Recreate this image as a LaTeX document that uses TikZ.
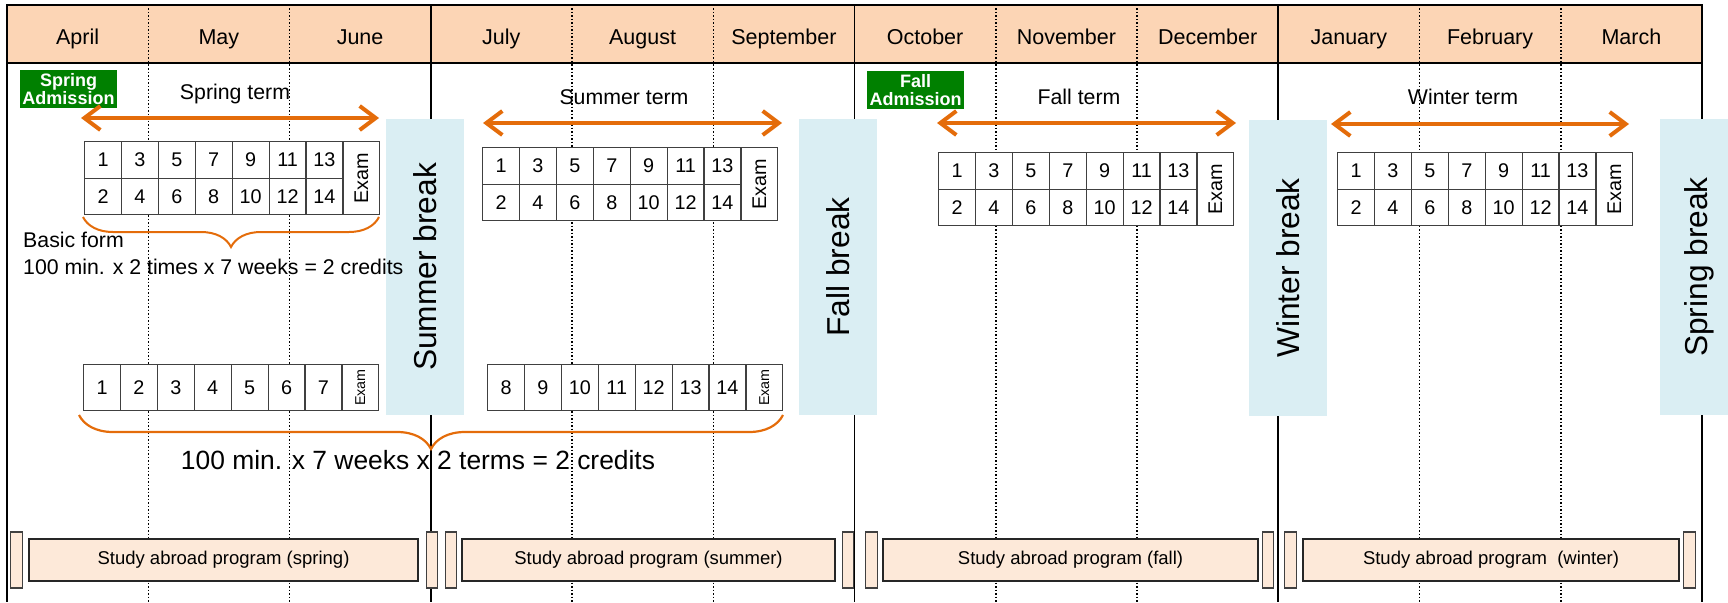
\documentclass[tikz,border=0pt]{standalone}
\usepackage{fontspec}
\setmainfont{Liberation Sans}
\usetikzlibrary{%
  positioning
 ,arrows.meta
 ,calc
 ,decorations.pathreplacing
}
\definecolor{hdr}{HTML}{FCD5B5}
\definecolor{brkblue}{HTML}{DAEEF3}
\definecolor{admgreen}{HTML}{008000}
\definecolor{progfill}{HTML}{FDE9D9}
\definecolor{orng}{HTML}{E46C0A}
\tikzstyle{frm}=[line width=1.8pt,black]
\tikzstyle{mline}=[line width=1.5pt,dotted]
\tikzstyle{mon}=[anchor=base,font=\fontsize{21.5}{24}\selectfont]
\tikzstyle{trm}=[anchor=base,font=\fontsize{21.3}{24}\selectfont]
\tikzstyle{adm}=[fill=admgreen,text=white,font=\fontsize{18}{18.5}\selectfont\bfseries,align=center,minimum width=97pt,minimum height=38pt,inner sep=0pt]
\tikzstyle{termspan}=[orng,line width=4pt,<->,>={Straight Barb[length=16pt,width=24pt]}]
\tikzstyle{cell}=[draw=black!75,line width=1.2pt,fill=white,minimum width=36.9pt,minimum height=36.5pt,inner sep=0pt,anchor=north west,font=\fontsize{19.8}{22}\selectfont]
\tikzstyle{brk}=[fill=brkblue,rotate=90,minimum width=296pt,minimum height=78pt,inner sep=0pt,font=\fontsize{31.7}{36}\selectfont]
\tikzstyle{brc}=[orng,line width=2pt,decorate,decoration={brace,mirror,amplitude=30pt}]
\tikzstyle{prog}=[draw=black!85,line width=1.8pt,fill=progfill,minimum height=42pt,inner sep=0pt,font=\fontsize{18.5}{22}\selectfont]
\tikzstyle{bar}=[draw=black!75,line width=1.2pt,fill=progfill,minimum width=11.5pt,minimum height=56pt,inner sep=0pt]
\tikzstyle{note}=[anchor=base west,inner sep=0pt,font=\fontsize{21.3}{24}\selectfont]
% two-row week grid: name, left, top
\newcommand\termgrid[3]{%
  \foreach \i [evaluate=\i as \o using int(2*\i-1), evaluate=\i as \e using int(2*\i)] in {1,...,7}{
    \node[cell] (#1o\i) at ({#2+36.9*(\i-1)},#3) {\o};
    \node[cell] (#1e\i) at ({#2+36.9*(\i-1)},{#3+36.5}) {\e};
  }
  \node[cell,minimum height=73pt] (#1x) at ({#2+36.9*7},#3) {\rotatebox{90}{Exam}};
}
% one-row week grid: name, left, top, first week
\newcommand\halfgrid[4]{%
  \foreach \i [evaluate=\i as \n using int(#4+\i-1)] in {1,...,7}
    \node[cell,minimum height=46pt] (#1c\i) at ({#2+36.9*(\i-1)},#3) {\n};
  \node[cell,minimum height=46pt,font=\fontsize{14.3}{16}\selectfont] (#1x) at ({#2+36.9*7},#3) {\rotatebox{90}{Exam}};
}
\begin{document}
\begin{tikzpicture}[x=1pt,y=-1pt]
\useasboundingbox (0,0) rectangle (1728,602);
% header and columns
\draw[frm,fill=hdr] (7,5) rectangle (1702,63);
\foreach \k in {1,2,4,5,7,8,10,11}
  \draw[mline] ({7+141.25*\k},5) -- ({7+141.25*\k},602);
\foreach \k in {0,3,6,9,12}
  \draw[frm] ({7+141.25*\k},5) -- ({7+141.25*\k},602);
\foreach \m [count=\i from 0] in {April,May,June,July,August,September,October,November,December,January,February,March}
  \node[mon] (mon\i) at ({77.6+141.25*\i},45) {\m};

% breaks
\node[brk] (sumbrk) at (425,267) {Summer break};
\node[brk] (falbrk) at (838,267) {Fall break};
\node[brk] (winbrk) at (1288,268) {Winter break};
\node[brk] (sprbrk) at (1699,267) {Spring break};

% admissions
\node[adm] (spradm) at (68.5,89) {Spring\\Admission};
\node[adm] (faladm) at (915.5,90) {Fall\\Admission};

% terms
\node[trm] (sprterm) at (235,99) {Spring term};
\node[trm] (sumterm) at (624,104) {Summer term};
\node[trm] (falterm) at (1079,104) {Fall term};
\node[trm] (winterm) at (1463,104) {Winter term};
\coordinate (sprL) at (81,118);   \coordinate (sprR) at (379,118);
\coordinate (sumL) at (483,123);  \coordinate (sumR) at (782,123);
\coordinate (falL) at (937,123);  \coordinate (falR) at (1236,123);
\coordinate (winL) at (1331,124); \coordinate (winR) at (1629,124);
\draw[termspan] (sprL) -- (sprR);
\draw[termspan] (sumL) -- (sumR);
\draw[termspan] (falL) -- (falR);
\draw[termspan] (winL) -- (winR);

% week grids
\termgrid{spr}{84}{141}
\termgrid{sum}{482}{147}
\termgrid{fal}{938}{152}
\termgrid{win}{1337}{152}
\halfgrid{sprh}{83}{364}{1}
\halfgrid{sumh}{487}{364}{8}

% credits
\coordinate (bfL) at (83,217); \coordinate (bfR) at (379,217);
\draw[brc] (bfL) -- (bfR);
\node[note] (basic) at (23,247) {Basic form};
\node[note] (basic2) at (23,274) {100 min. x 2 times x 7 weeks = 2 credits};
\coordinate (twL) at (79,415); \coordinate (twR) at (783,415);
\draw[brc,line width=2.2pt,decoration={amplitude=34pt}] (twL) -- (twR);
\node[font=\fontsize{26.4}{30}\selectfont] (twoterm) at (418,460) {100 min. x 7 weeks x 2 terms = 2 credits};

% study abroad
\foreach \c/\w/\t [count=\i] in {223.5/389/{Study abroad program (spring)},648.5/373/{Study abroad program (summer)},1070.5/375/{Study abroad program (fall)},1491/376/{Study abroad program~ (winter)}}
  \node[prog,minimum width=\w pt] (prog\i) at (\c,560) {\t};
\foreach \c [count=\i] in {16.5,432,451,848,871.5,1268,1290.5,1689.5}
  \node[bar] (bar\i) at (\c,560) {};
\end{tikzpicture}
\end{document}
